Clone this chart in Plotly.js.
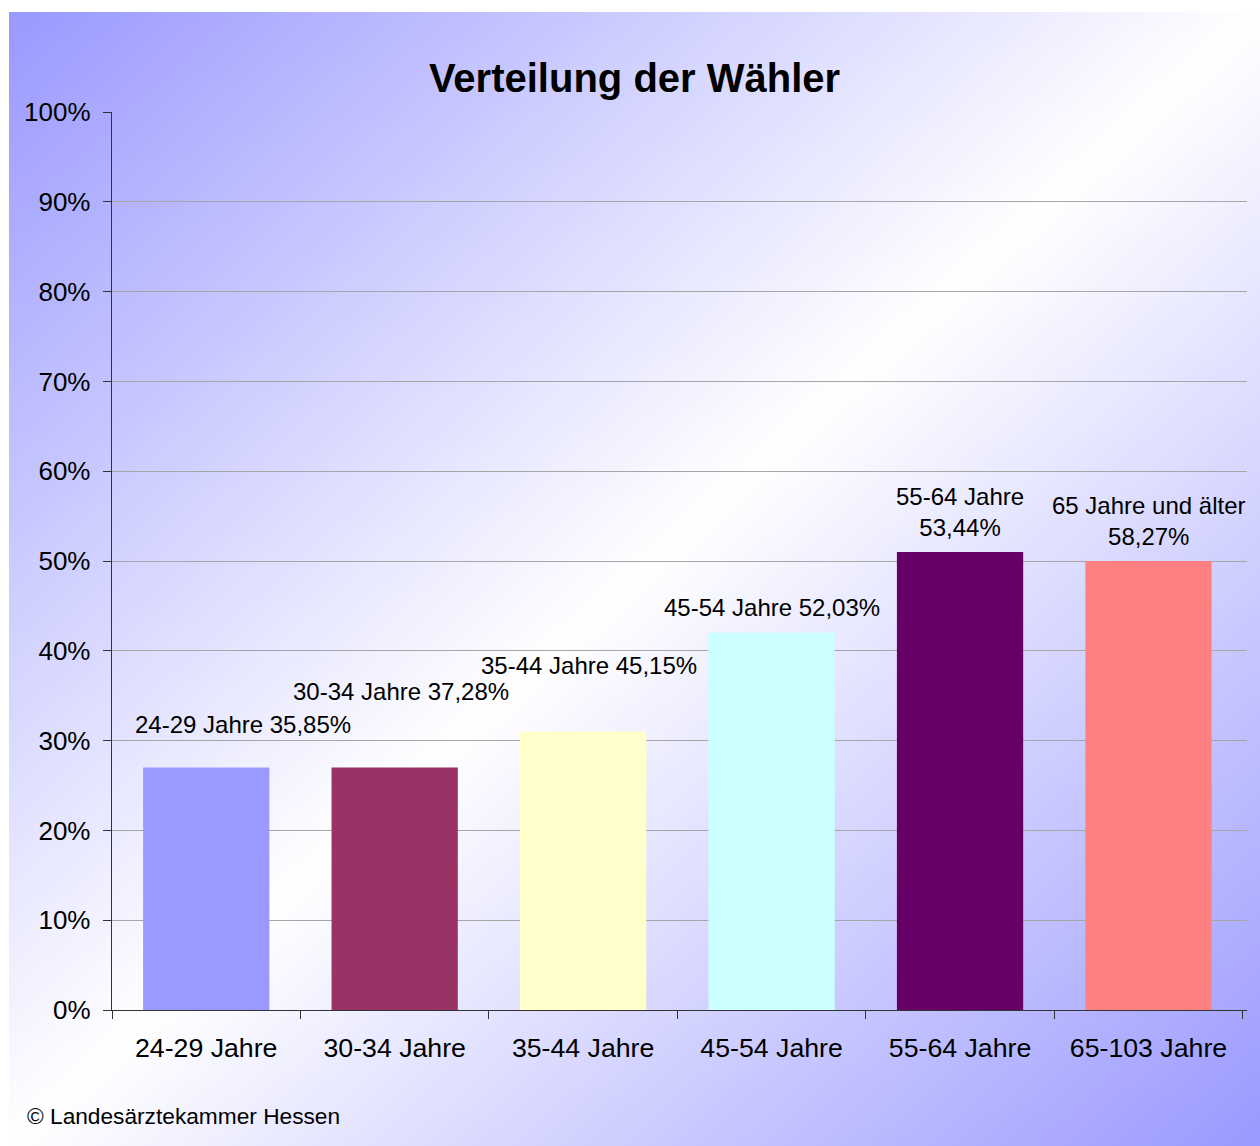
<!DOCTYPE html>
<html>
<head>
<meta charset="utf-8">
<script src="https://cdn.plot.ly/plotly-3.0.1.min.js"></script>
<style>
  html, body { margin: 0; padding: 0; background: #ffffff; }
  #frame {
    position: absolute; left: 9px; top: 12px; width: 1251px; height: 1134px;
    background: linear-gradient(to bottom right, #9999ff 0%, #ffffff 50%, #9999ff 100%);
  }
  #chart { width: 1251px; height: 1134px; }
</style>
</head>
<body>
<div id="frame"><div id="chart"></div></div>
<script>
// Data
const categories = ["24-29 Jahre", "30-34 Jahre", "35-44 Jahre", "45-54 Jahre", "55-64 Jahre", "65-103 Jahre"];
const values = [27, 27, 31, 42, 51, 50];
const barLabels = ["24-29 Jahre 35,85%", "30-34 Jahre 37,28%", "35-44 Jahre 45,15%", "45-54 Jahre 52,03%", "55-64 Jahre<br>53,44%", "65 Jahre und älter<br>58,27%"];
const barColors = ["#9999ff", "#993366", "#ffffcc", "#ccffff", "#660066", "#ff8080"];
const yTickVals = [0, 10, 20, 30, 40, 50, 60, 70, 80, 90, 100];
const yTickText = ["0%", "10%", "20%", "30%", "40%", "50%", "60%", "70%", "80%", "90%", "100%"];

// Label placement (style only)
const labelXShift = [37, 6, 6, 0, 0, 0];
const labelYShift = [43, 76, 66, 25, 40, 40];

const font = "Liberation Sans, Arial, sans-serif";

const trace = {
  type: "bar",
  x: categories,
  y: values,
  marker: { color: barColors, line: { width: 0 } },
  hoverinfo: "skip"
};

const annotations = categories.map((c, i) => ({
  x: c, y: values[i], xref: "x", yref: "y",
  text: barLabels[i], showarrow: false,
  xanchor: "center", yanchor: "middle",
  xshift: labelXShift[i], yshift: labelYShift[i],
  font: { family: font, size: 24, color: "#000" }
}));
annotations.push({
  xref: "paper", yref: "paper", x: 0, y: -0.1185,
  xshift: -87,
  xanchor: "left", yanchor: "middle", showarrow: false,
  text: "© Landesärztekammer Hessen",
  font: { family: font, size: 22.7, color: "#000" }
});

const layout = {
  width: 1251, height: 1134,
  paper_bgcolor: "rgba(0,0,0,0)",
  plot_bgcolor: "rgba(0,0,0,0)",
  margin: { l: 103, r: 13, t: 100, b: 136 },
  title: {
    text: "<b>Verteilung der Wähler</b>",
    font: { family: font, size: 40, color: "#000" },
    x: 0.5, xanchor: "center", y: 1 - 66/1134, yanchor: "middle"
  },
  showlegend: false,
  bargap: 0.33,
  xaxis: {
    type: "category",
    showline: true, linecolor: "#333", linewidth: 1.3,
    ticks: "outside", tickson: "boundaries", ticklen: 8, tickcolor: "#333",
    showgrid: false,
    tickfont: { family: font, size: 26.7, color: "#000" },
    ticklabelstandoff: 14,
    fixedrange: true
  },
  yaxis: {
    range: [0, 100],
    tickvals: yTickVals, ticktext: yTickText,
    showline: true, linecolor: "#333", linewidth: 1.3,
    ticks: "outside", ticklen: 8, tickcolor: "#333",
    showgrid: true, gridcolor: "#a6a6a6", gridwidth: 1,
    zeroline: false,
    tickfont: { family: font, size: 26, color: "#000" },
    ticklabelstandoff: 7,
    fixedrange: true
  },
  annotations: annotations
};

Plotly.newPlot("chart", [trace], layout, { displayModeBar: false, staticPlot: true });
</script>
</body>
</html>
